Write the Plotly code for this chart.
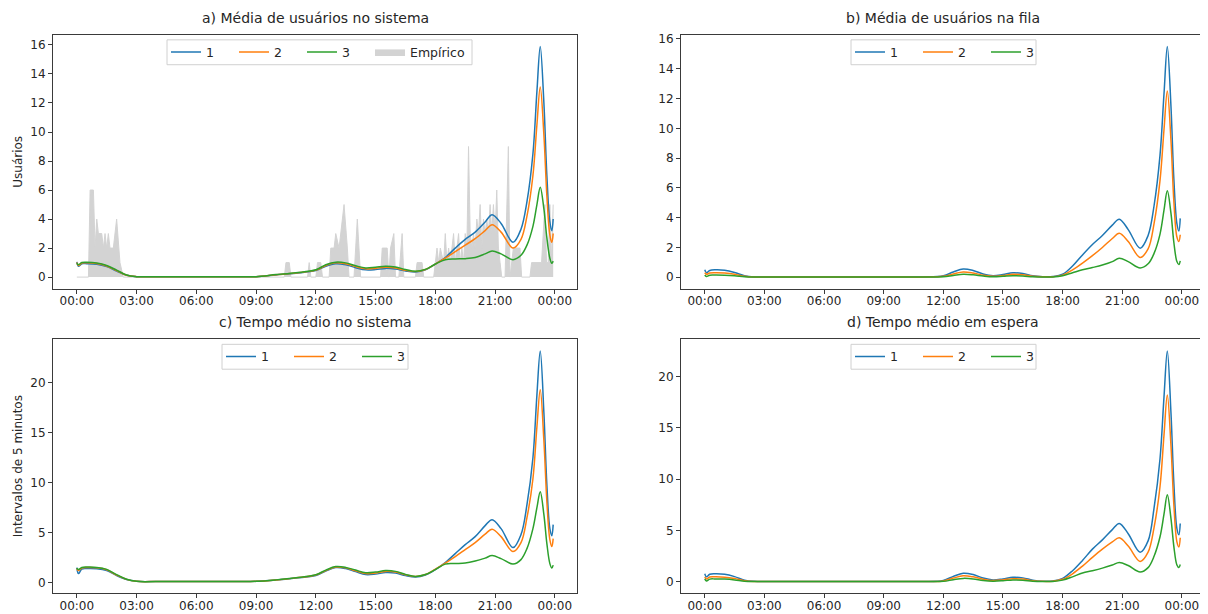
import plotly.graph_objects as go

# ---------------- data ----------------
t_curve = ["00:00", "00:05", "00:15", "00:30", "01:00", "01:30", "02:00", "02:30", "03:00", "04:00",
           "06:00", "08:00", "09:00", "10:00", "11:00", "12:00", "12:30", "13:00", "13:30", "14:00",
           "14:30", "15:00", "15:30", "16:00", "16:30", "17:00", "17:30", "18:00", "18:30", "19:00",
           "19:30", "20:00", "20:30", "20:51", "21:18", "21:54", "22:18", "22:36", "22:54", "23:06",
           "23:16", "23:27", "23:36", "23:45", "23:51", "23:55"]

# a) Média de usuários no sistema
sys_1 = [1.05, 0.75, 0.92, 0.92, 0.88, 0.72, 0.42, 0.12, 0.03, 0.02, 0.02, 0.02, 0.03, 0.15, 0.27, 0.45,
         0.75, 0.92, 0.85, 0.65, 0.50, 0.52, 0.60, 0.55, 0.42, 0.35, 0.50, 0.90, 1.35, 2.00, 2.60, 3.10,
         3.80, 4.30, 3.70, 2.40, 3.30, 5.20, 8.50, 12.8, 15.9, 12.0, 7.00, 3.80, 3.20, 4.00]
sys_2 = [1.00, 0.80, 0.97, 0.98, 0.93, 0.76, 0.45, 0.13, 0.03, 0.02, 0.02, 0.02, 0.03, 0.16, 0.28, 0.48,
         0.80, 0.98, 0.92, 0.72, 0.57, 0.60, 0.68, 0.63, 0.47, 0.38, 0.52, 0.90, 1.30, 1.75, 2.20, 2.65,
         3.20, 3.60, 3.10, 2.00, 2.60, 4.20, 7.00, 10.5, 13.1, 9.80, 5.60, 2.90, 2.40, 3.00]
sys_3 = [0.95, 0.85, 1.00, 1.02, 0.97, 0.80, 0.48, 0.14, 0.03, 0.02, 0.02, 0.02, 0.03, 0.17, 0.30, 0.50,
         0.85, 1.03, 0.98, 0.78, 0.63, 0.68, 0.75, 0.70, 0.52, 0.40, 0.53, 0.90, 1.20, 1.25, 1.27, 1.35,
         1.60, 1.80, 1.60, 1.20, 1.50, 2.20, 3.50, 5.00, 6.20, 4.70, 2.70, 1.30, 0.95, 1.10]

# b) Média de usuários na fila
fila_1 = [0.50, 0.30, 0.45, 0.50, 0.47, 0.32, 0.10, 0.02, 0.01, 0.01, 0.01, 0.01, 0.01, 0.01, 0.02, 0.10,
          0.35, 0.55, 0.45, 0.22, 0.10, 0.18, 0.30, 0.25, 0.10, 0.04, 0.05, 0.20, 0.75, 1.50, 2.20, 2.80,
          3.50, 3.90, 3.20, 1.95, 2.80, 4.80, 8.20, 12.3, 15.5, 11.5, 6.50, 3.60, 3.10, 3.95]
fila_2 = [0.30, 0.20, 0.28, 0.30, 0.28, 0.20, 0.06, 0.01, 0.01, 0.01, 0.01, 0.01, 0.01, 0.01, 0.01, 0.06,
          0.22, 0.35, 0.28, 0.14, 0.06, 0.11, 0.20, 0.16, 0.06, 0.03, 0.03, 0.14, 0.50, 0.95, 1.45, 2.00,
          2.60, 2.95, 2.40, 1.33, 1.90, 3.60, 6.50, 9.90, 12.5, 9.20, 5.00, 2.70, 2.40, 2.85]
fila_3 = [0.15, 0.05, 0.14, 0.15, 0.14, 0.10, 0.03, 0.01, 0.01, 0.01, 0.01, 0.01, 0.01, 0.01, 0.01, 0.03,
          0.12, 0.20, 0.16, 0.08, 0.03, 0.06, 0.10, 0.08, 0.03, 0.01, 0.02, 0.10, 0.30, 0.50, 0.65, 0.82,
          1.05, 1.28, 1.05, 0.62, 0.90, 1.60, 2.90, 4.50, 5.80, 4.30, 2.30, 1.05, 0.85, 1.10]

# c) Tempo médio no sistema
tsis_1 = [1.50, 0.90, 1.35, 1.40, 1.38, 1.20, 0.70, 0.30, 0.12, 0.10, 0.10, 0.10, 0.12, 0.25, 0.45, 0.70,
          1.15, 1.50, 1.40, 1.10, 0.80, 0.85, 1.00, 0.95, 0.70, 0.55, 0.75, 1.30, 2.00, 2.90, 3.80, 4.60,
          5.70, 6.30, 5.40, 3.50, 4.80, 7.80, 12.5, 18.8, 23.2, 17.0, 9.80, 5.40, 4.70, 5.80]
tsis_2 = [1.40, 1.20, 1.45, 1.50, 1.48, 1.28, 0.75, 0.32, 0.12, 0.10, 0.10, 0.10, 0.12, 0.26, 0.47, 0.75,
          1.20, 1.55, 1.47, 1.18, 0.90, 0.95, 1.12, 1.05, 0.78, 0.60, 0.80, 1.35, 1.95, 2.60, 3.30, 4.00,
          4.85, 5.35, 4.60, 3.10, 4.00, 6.50, 10.4, 15.6, 19.3, 14.2, 8.10, 4.30, 3.60, 4.40]
tsis_3 = [1.45, 1.30, 1.50, 1.55, 1.52, 1.32, 0.80, 0.33, 0.12, 0.10, 0.10, 0.10, 0.12, 0.27, 0.48, 0.78,
          1.25, 1.60, 1.52, 1.25, 0.98, 1.05, 1.20, 1.12, 0.82, 0.62, 0.80, 1.30, 1.85, 1.90, 1.95, 2.15,
          2.45, 2.70, 2.40, 1.85, 2.30, 3.40, 5.40, 7.50, 9.10, 6.80, 3.90, 1.90, 1.45, 1.75]

# d) Tempo médio em espera
tesp_1 = [0.80, 0.50, 0.75, 0.80, 0.75, 0.52, 0.18, 0.06, 0.04, 0.04, 0.04, 0.04, 0.04, 0.04, 0.05, 0.15,
          0.55, 0.85, 0.72, 0.38, 0.20, 0.30, 0.45, 0.40, 0.18, 0.08, 0.10, 0.35, 1.10, 2.10, 3.20, 4.10,
          5.10, 5.70, 4.70, 2.90, 4.00, 7.20, 12.0, 18.0, 22.5, 16.5, 9.50, 5.20, 4.60, 5.70]
tesp_2 = [0.50, 0.30, 0.48, 0.50, 0.47, 0.33, 0.12, 0.05, 0.04, 0.04, 0.04, 0.04, 0.04, 0.04, 0.05, 0.10,
          0.38, 0.60, 0.50, 0.27, 0.14, 0.20, 0.32, 0.28, 0.12, 0.06, 0.08, 0.26, 0.80, 1.55, 2.40, 3.20,
          3.90, 4.30, 3.50, 2.00, 2.90, 5.30, 9.30, 14.3, 18.2, 13.3, 7.40, 3.90, 3.40, 4.30]
tesp_3 = [0.30, 0.10, 0.28, 0.30, 0.28, 0.20, 0.07, 0.04, 0.04, 0.04, 0.04, 0.04, 0.04, 0.04, 0.05, 0.06,
          0.22, 0.35, 0.30, 0.15, 0.08, 0.12, 0.20, 0.17, 0.07, 0.04, 0.05, 0.18, 0.50, 0.88, 1.10, 1.35,
          1.65, 1.90, 1.60, 0.97, 1.40, 2.50, 4.40, 6.60, 8.50, 6.20, 3.40, 1.65, 1.40, 1.70]

# Empírico (usuários observados)
emp_t = ["00:00", "00:35", "00:40", "00:50", "00:55", "01:00", "01:05", "01:15", "01:20", "01:25",
         "01:30", "01:35", "01:40", "01:50", "02:00", "02:10", "02:20", "10:25", "10:30", "10:40",
         "10:45", "11:35", "11:40", "11:45", "12:00", "12:05", "12:15", "12:20", "12:40", "12:45",
         "12:55", "13:00", "13:10", "13:25", "13:35", "13:40", "13:55", "14:05", "14:15", "15:15",
         "15:20", "15:35", "15:40", "15:45", "15:55", "16:00", "16:10", "16:20", "16:25", "17:00",
         "17:05", "17:20", "17:25", "17:55", "18:00", "18:05", "18:10", "18:15", "18:25", "18:30",
         "18:35", "18:40", "18:45", "18:55", "19:00", "19:05", "19:10", "19:15", "19:20", "19:25",
         "19:30", "19:35", "19:40", "19:45", "19:50", "19:55", "20:00", "20:05", "20:10", "20:15",
         "20:20", "20:25", "20:30", "20:35", "20:40", "20:45", "20:50", "20:55", "21:00", "21:05",
         "21:10", "21:15", "21:20", "21:30", "21:40", "21:45", "21:55", "22:15", "22:20", "22:45",
         "22:50", "23:20", "23:30", "23:35", "23:40", "23:45", "23:50", "23:55"]
emp_v = [0, 0, 6, 6, 2, 4, 3, 3, 2, 3,
         2, 3, 2, 2, 4, 1, 0, 0, 1, 1,
         0, 0, 1, 0, 0, 1, 1, 0, 0, 2,
         2, 3, 2, 5, 2, 0, 0, 4, 0, 0,
         2, 2, 0, 2, 3, 0, 0, 3, 0, 0,
         1, 1, 0, 0, 1, 2, 1, 2, 1, 3,
         1, 2, 1, 3, 1, 2, 3, 1, 2, 1,
         3, 2, 9, 3, 2, 3, 2, 4, 3, 5,
         2, 4, 3, 4, 3, 5, 3, 5, 3, 6,
         2, 1, 0, 0, 9, 0, 2, 2, 0, 0,
         1, 1, 5, 1, 1, 5, 1, 5]

series_names = ["1", "2", "3"]
colors = ["#1f77b4", "#ff7f0e", "#2ca02c"]
titles = ["a) Média de usuários no sistema", "b) Média de usuários na fila",
          "c) Tempo médio no sistema", "d) Tempo médio em espera"]
tick_hours = [0, 3, 6, 9, 12, 15, 18, 21, 24]
tick_text = ["00:00", "03:00", "06:00", "09:00", "12:00", "15:00", "18:00", "21:00", "00:00"]


def to_h(s):
    h, m = s.split(":")
    return int(h) + int(m) / 60.0


xc = [to_h(s) for s in t_curve]
xe = [to_h(s) for s in emp_t]

panels = [[sys_1, sys_2, sys_3], [fila_1, fila_2, fila_3],
          [tsis_1, tsis_2, tsis_3], [tesp_1, tesp_2, tesp_3]]

# page offset (browser body margin) -> figure is drawn at (8, 8)
OFF = 8
W, H = 1208 - OFF, 614 - OFF
FONT = "DejaVu Sans"
TXT = "#262626"


def px(p):
    return (p - OFF) / W


def py(p):
    return 1 - (p - OFF) / H


# plot-area boxes in screenshot pixels (left, right, top, bottom)
boxes = [(53, 577, 32, 287), (681, 1204, 32, 287), (53, 577, 338, 593), (681, 1204, 338, 593)]
# legend boxes (left, right, top, bottom)
leg_boxes = [(167, 472, 37, 62), (851, 1036, 37, 62), (222, 408, 343, 368), (851, 1036, 343, 368)]

fig = go.Figure()

# empirical area in panel a
fig.add_trace(go.Scatter(x=xe, y=emp_v, mode="lines", fill="tozeroy",
                         fillcolor="#d3d3d3", line=dict(color="#d3d3d3", width=1),
                         name="Empírico", xaxis="x", yaxis="y", legend="legend5"))

for p, series in enumerate(panels):
    ax = "" if p == 0 else str(p + 1)
    leg = "legend" if p == 0 else "legend" + str(p + 1)
    for s, vals in enumerate(series):
        fig.add_trace(go.Scatter(x=xc, y=vals, mode="lines", name=series_names[s],
                                 line=dict(color=colors[s], width=1.5, shape="spline", smoothing=1.0),
                                 xaxis="x" + ax, yaxis="y" + ax, legend=leg))

# x range like matplotlib (5% margins)
xmin, xmax = 0.0, xc[-1]
xr = [xmin - 0.05 * (xmax - xmin), xmax + 0.05 * (xmax - xmin)]

layout = dict(width=W, height=H, margin=dict(l=0, r=0, t=0, b=0),
              plot_bgcolor="white", paper_bgcolor="white",
              font=dict(family=FONT, size=12, color=TXT), annotations=[], shapes=[])

for p in range(4):
    l, r, t, b = boxes[p]
    ax = "" if p == 0 else str(p + 1)
    allv = [v for s in panels[p] for v in s] + (emp_v if p == 0 else [])
    ymin, ymax = min(allv), max(allv)
    yr = [ymin - 0.05 * (ymax - ymin), ymax + 0.05 * (ymax - ymin)]
    common = dict(showline=True, linecolor="#3a3a3a", linewidth=1, mirror=True,
                  ticks="outside", ticklen=4, tickcolor="#3a3a3a", showgrid=False,
                  zeroline=False, tickfont=dict(family=FONT, size=12, color=TXT))
    layout["xaxis" + ax] = dict(domain=[px(l), px(r)], anchor="y" + ax, range=xr,
                                tickmode="array", tickvals=tick_hours, ticktext=tick_text,
                                ticklabelstandoff=-3, **common)
    layout["yaxis" + ax] = dict(domain=[py(b), py(t)], anchor="x" + ax, range=yr,
                                dtick=2 if p < 2 else 5, **common)
    layout["annotations"].append(dict(text=titles[p], x=px((l + r) / 2), y=py(t - 7),
                                      xref="paper", yref="paper", xanchor="center", yanchor="bottom",
                                      showarrow=False, font=dict(family=FONT, size=14, color=TXT)))
    # legend frame
    bl, br, bt, bb = leg_boxes[p]
    layout["shapes"].append(dict(type="rect", xref="paper", yref="paper",
                                 x0=px(bl), x1=px(br), y0=py(bb), y1=py(bt),
                                 line=dict(color="#d0d0d0", width=1),
                                 fillcolor="rgba(255,255,255,0.8)", layer="above"))
    leg = "legend" if p == 0 else "legend" + str(p + 1)
    layout[leg] = dict(x=px(bl - 1), y=py((bt + bb) / 2), xanchor="left", yanchor="middle",
                       orientation="h", bgcolor="rgba(0,0,0,0)", borderwidth=0,
                       font=dict(family=FONT, size=12.5, color=TXT),
                       entrywidth=23, itemwidth=30, tracegroupgap=0)

# separate legend for the empirical patch (4th entry of panel a)
bl, br, bt, bb = leg_boxes[0]
layout["legend5"] = dict(x=px(bl - 1 + 3 * 68), y=py((bt + bb) / 2), xanchor="left", yanchor="middle",
                         orientation="h", bgcolor="rgba(0,0,0,0)", borderwidth=0,
                         font=dict(family=FONT, size=12.5, color=TXT), itemwidth=30)

layout["annotations"].append(dict(text="Usuários", x=px(18), y=py((32 + 287) / 2),
                                  xref="paper", yref="paper", textangle=-90, showarrow=False,
                                  xanchor="center", yanchor="middle",
                                  font=dict(family=FONT, size=12, color=TXT)))
layout["annotations"].append(dict(text="Intervalos de 5 minutos", x=px(18), y=py((338 + 593) / 2),
                                  xref="paper", yref="paper", textangle=-90, showarrow=False,
                                  xanchor="center", yanchor="middle",
                                  font=dict(family=FONT, size=12, color=TXT)))

fig.update_layout(**layout)
fig.write_html("out.html")
